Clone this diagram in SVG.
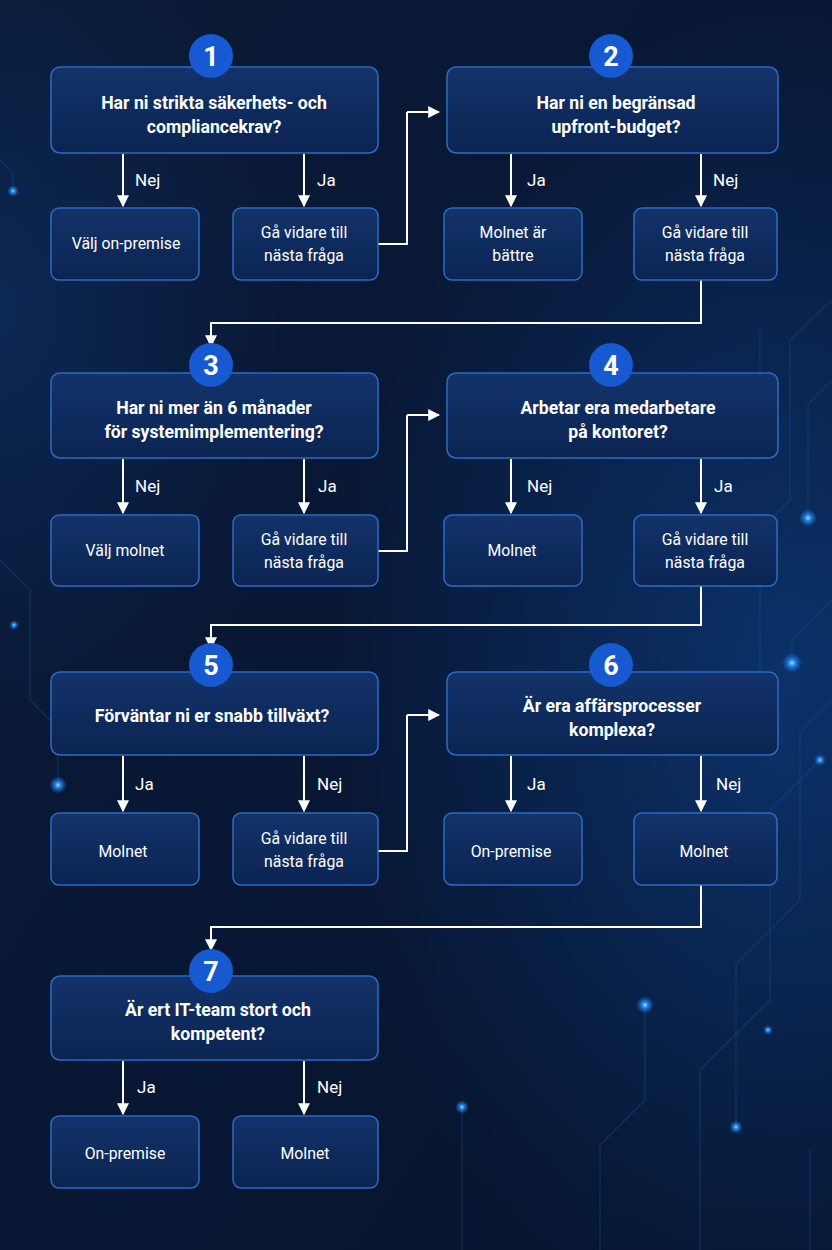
<svg xmlns="http://www.w3.org/2000/svg" width="832" height="1250" viewBox="0 0 832 1250">
<defs>
<linearGradient id="bg" x1="0" y1="0" x2="1" y2="1">
<stop offset="0" stop-color="#0b1a34"/>
<stop offset="0.5" stop-color="#081734"/>
<stop offset="1" stop-color="#06132b"/>
</linearGradient>
<radialGradient id="glowR" cx="0.95" cy="0.55" r="0.55">
<stop offset="0" stop-color="#0f4a9a" stop-opacity="0.55"/>
<stop offset="1" stop-color="#0f4a9a" stop-opacity="0"/>
</radialGradient>
<radialGradient id="glowL" cx="0.0" cy="0.25" r="0.35">
<stop offset="0" stop-color="#0d3c80" stop-opacity="0.4"/>
<stop offset="1" stop-color="#0d3c80" stop-opacity="0"/>
</radialGradient>
<linearGradient id="box" x1="0" y1="0" x2="0" y2="1">
<stop offset="0" stop-color="#12336a"/>
<stop offset="1" stop-color="#0b2452"/>
</linearGradient>
<radialGradient id="dot">
<stop offset="0" stop-color="#9fe3ff" stop-opacity="1"/>
<stop offset="0.3" stop-color="#2aa6ff" stop-opacity="0.8"/>
<stop offset="1" stop-color="#1a6cff" stop-opacity="0"/>
</radialGradient>
<marker id="ah" viewBox="0 0 10 10" refX="9" refY="5" markerWidth="6" markerHeight="6" orient="auto">
<path d="M0,0 L10,5 L0,10 z" fill="#ffffff"/>
</marker>
<style>
.q{fill:url(#box);stroke:#2e6bc4;stroke-width:1.5}
.a{fill:url(#box);stroke:#2e6bc4;stroke-width:1.5}
.qt{font-family:Roboto,"Liberation Sans",sans-serif;font-weight:700;font-size:19px;fill:#ffffff;text-anchor:middle}
.at{font-family:Roboto,"Liberation Sans",sans-serif;font-weight:400;font-size:17px;fill:#ffffff;text-anchor:middle}
.lb{font-family:Roboto,"Liberation Sans",sans-serif;font-weight:400;font-size:17px;fill:#ffffff}
.bd{fill:#1659d0}
.bn{font-family:Roboto,"Liberation Sans",sans-serif;font-weight:700;font-size:27px;fill:#ffffff;text-anchor:middle}
.c{fill:none;stroke:#ffffff;stroke-width:2}
.ca{fill:none;stroke:#ffffff;stroke-width:2;marker-end:url(#ah)}
.ck{fill:none;stroke:#1b4f96;stroke-width:1.5;opacity:0.35}
</style>
</defs>
<rect width="832" height="1250" fill="url(#bg)"/>
<rect width="832" height="1250" fill="url(#glowR)"/>
<rect width="832" height="1250" fill="url(#glowL)"/>
<g id="background-circuit">
<path class="ck" d="M832,300 L790,340 L790,500 L760,530 L760,700 L700,760"/>
<path class="ck" d="M832,380 L808,404 L808,518"/>
<path class="ck" d="M832,600 L792,640 L792,663"/>
<path class="ck" d="M832,700 L800,732 L800,900 L736,964 L736,1127"/>
<path class="ck" d="M760,330 L760,460"/>
<path class="ck" d="M820,760 L770,810 L770,1000 L700,1070 L700,1250"/>
<path class="ck" d="M645,1005 L645,1100 L600,1145 L600,1250"/>
<path class="ck" d="M462,1107 L462,1250"/>
<path class="ck" d="M0,560 L30,590 L30,700 L58,728 L58,785"/>
<path class="ck" d="M810,1150 L810,1250"/>
<path class="ck" d="M0,160 L13,173 L13,191"/>
<circle cx="808" cy="518" r="9" fill="url(#dot)"/>
<circle cx="792" cy="663" r="10" fill="url(#dot)"/>
<circle cx="645" cy="1005" r="9" fill="url(#dot)"/>
<circle cx="462" cy="1107" r="7" fill="url(#dot)"/>
<circle cx="736" cy="1127" r="7" fill="url(#dot)"/>
<circle cx="58" cy="785" r="9" fill="url(#dot)"/>
<circle cx="13" cy="191" r="6" fill="url(#dot)"/>
<circle cx="820" cy="760" r="6" fill="url(#dot)"/>
<circle cx="768" cy="1030" r="5" fill="url(#dot)"/>
<circle cx="14" cy="625" r="5" fill="url(#dot)"/>
</g>

<g id="connectors">
<path class="ca" d="M123,154 V206"/>
<path class="ca" d="M304,154 V206"/>
<path class="ca" d="M511,154 V206"/>
<path class="ca" d="M701,154 V206"/>
<path class="c" d="M378,244 H407 V112"/>
<path class="ca" d="M407,112 H439"/>
<path class="ca" d="M701,280 V323 H211 V346"/>
<text class="lb" x="135" y="186">Nej</text>
<text class="lb" x="317" y="186">Ja</text>
<text class="lb" x="527" y="186">Ja</text>
<text class="lb" x="713" y="186">Nej</text>

<path class="ca" d="M123,459 V513"/>
<path class="ca" d="M304,459 V513"/>
<path class="ca" d="M511,459 V513"/>
<path class="ca" d="M701,459 V513"/>
<path class="c" d="M378,551 H407 V415"/>
<path class="ca" d="M407,415 H439"/>
<path class="ca" d="M701,586 V625 H211 V648"/>
<text class="lb" x="135" y="492">Nej</text>
<text class="lb" x="318" y="492">Ja</text>
<text class="lb" x="527" y="492">Nej</text>
<text class="lb" x="714" y="492">Ja</text>

<path class="ca" d="M123,756 V811"/>
<path class="ca" d="M304,756 V811"/>
<path class="ca" d="M511,756 V811"/>
<path class="ca" d="M701,756 V811"/>
<path class="c" d="M378,851 H407 V715"/>
<path class="ca" d="M407,715 H439"/>
<path class="ca" d="M701,885 V927 H211 V950"/>
<text class="lb" x="135" y="790">Ja</text>
<text class="lb" x="317" y="790">Nej</text>
<text class="lb" x="527" y="790">Ja</text>
<text class="lb" x="716" y="790">Nej</text>

<path class="ca" d="M123,1061 V1114"/>
<path class="ca" d="M304,1061 V1114"/>
<text class="lb" x="137" y="1093">Ja</text>
<text class="lb" x="317" y="1093">Nej</text>
</g>

<g id="q1">
<rect class="q" x="51" y="67" width="327" height="86" rx="9"/>
<circle class="bd" cx="211" cy="56" r="22"/>
<text class="bn" x="211" y="66">1</text>
<text class="qt" transform="translate(214 109) scale(0.93 1)">Har ni strikta säkerhets- och</text>
<text class="qt" transform="translate(214 133) scale(0.93 1)">compliancekrav?</text>
</g>
<g id="a1-nej"><rect class="a" x="51" y="208" width="148" height="72" rx="8"/><text class="at" transform="translate(126 249) scale(0.93 1)">Välj on-premise</text></g>
<g id="a1-ja"><rect class="a" x="233" y="208" width="145" height="72" rx="8"/><text class="at" transform="translate(304 238) scale(0.93 1)">Gå vidare till</text><text class="at" transform="translate(304 261) scale(0.93 1)">nästa fråga</text></g>

<g id="q2">
<rect class="q" x="447" y="67" width="331" height="86" rx="9"/>
<circle class="bd" cx="611" cy="56" r="22"/>
<text class="bn" x="611" y="66">2</text>
<text class="qt" transform="translate(616 109) scale(0.93 1)">Har ni en begränsad</text>
<text class="qt" transform="translate(616 133) scale(0.93 1)">upfront-budget?</text>
</g>
<g id="a2-ja"><rect class="a" x="444" y="208" width="138" height="72" rx="8"/><text class="at" transform="translate(513 238) scale(0.93 1)">Molnet är</text><text class="at" transform="translate(513 261) scale(0.93 1)">bättre</text></g>
<g id="a2-nej"><rect class="a" x="634" y="208" width="143" height="72" rx="8"/><text class="at" transform="translate(705 238) scale(0.93 1)">Gå vidare till</text><text class="at" transform="translate(705 261) scale(0.93 1)">nästa fråga</text></g>

<g id="q3">
<rect class="q" x="51" y="373" width="327" height="85" rx="9"/>
<circle class="bd" cx="211" cy="365" r="22"/>
<text class="bn" x="211" y="375">3</text>
<text class="qt" transform="translate(214 414) scale(0.93 1)">Har ni mer än 6 månader</text>
<text class="qt" transform="translate(214 438) scale(0.93 1)">för systemimplementering?</text>
</g>
<g id="a3-nej"><rect class="a" x="51" y="515" width="148" height="71" rx="8"/><text class="at" transform="translate(125 556) scale(0.93 1)">Välj molnet</text></g>
<g id="a3-ja"><rect class="a" x="233" y="515" width="145" height="71" rx="8"/><text class="at" transform="translate(304 545) scale(0.93 1)">Gå vidare till</text><text class="at" transform="translate(304 568) scale(0.93 1)">nästa fråga</text></g>

<g id="q4">
<rect class="q" x="447" y="373" width="331" height="85" rx="9"/>
<circle class="bd" cx="611" cy="365" r="22"/>
<text class="bn" x="611" y="375">4</text>
<text class="qt" transform="translate(618 414) scale(0.93 1)">Arbetar era medarbetare</text>
<text class="qt" transform="translate(618 438) scale(0.93 1)">på kontoret?</text>
</g>
<g id="a4-nej"><rect class="a" x="444" y="515" width="138" height="71" rx="8"/><text class="at" transform="translate(512 556) scale(0.93 1)">Molnet</text></g>
<g id="a4-ja"><rect class="a" x="634" y="515" width="143" height="71" rx="8"/><text class="at" transform="translate(705 545) scale(0.93 1)">Gå vidare till</text><text class="at" transform="translate(705 568) scale(0.93 1)">nästa fråga</text></g>

<g id="q5">
<rect class="q" x="51" y="672" width="327" height="83" rx="9"/>
<circle class="bd" cx="211" cy="665" r="22"/>
<text class="bn" x="211" y="675">5</text>
<text class="qt" transform="translate(212 722) scale(0.93 1)">Förväntar ni er snabb tillväxt?</text>
</g>
<g id="a5-ja"><rect class="a" x="51" y="813" width="148" height="72" rx="8"/><text class="at" transform="translate(123 857) scale(0.93 1)">Molnet</text></g>
<g id="a5-nej"><rect class="a" x="233" y="813" width="145" height="72" rx="8"/><text class="at" transform="translate(304 844) scale(0.93 1)">Gå vidare till</text><text class="at" transform="translate(304 867) scale(0.93 1)">nästa fråga</text></g>

<g id="q6">
<rect class="q" x="447" y="672" width="331" height="83" rx="9"/>
<circle class="bd" cx="611" cy="665" r="22"/>
<text class="bn" x="611" y="675">6</text>
<text class="qt" transform="translate(612 712) scale(0.93 1)">Är era affärsprocesser</text>
<text class="qt" transform="translate(612 736) scale(0.93 1)">komplexa?</text>
</g>
<g id="a6-ja"><rect class="a" x="444" y="813" width="138" height="72" rx="8"/><text class="at" transform="translate(511 857) scale(0.93 1)">On-premise</text></g>
<g id="a6-nej"><rect class="a" x="634" y="813" width="143" height="72" rx="8"/><text class="at" transform="translate(704 857) scale(0.93 1)">Molnet</text></g>

<g id="q7">
<rect class="q" x="51" y="976" width="327" height="84" rx="9"/>
<circle class="bd" cx="211" cy="971" r="22"/>
<text class="bn" x="211" y="981">7</text>
<text class="qt" transform="translate(218 1016) scale(0.93 1)">Är ert IT-team stort och</text>
<text class="qt" transform="translate(218 1040) scale(0.93 1)">kompetent?</text>
</g>
<g id="a7-ja"><rect class="a" x="51" y="1116" width="148" height="72" rx="8"/><text class="at" transform="translate(125 1159) scale(0.93 1)">On-premise</text></g>
<g id="a7-nej"><rect class="a" x="233" y="1116" width="145" height="72" rx="8"/><text class="at" transform="translate(305 1159) scale(0.93 1)">Molnet</text></g>
</svg>
